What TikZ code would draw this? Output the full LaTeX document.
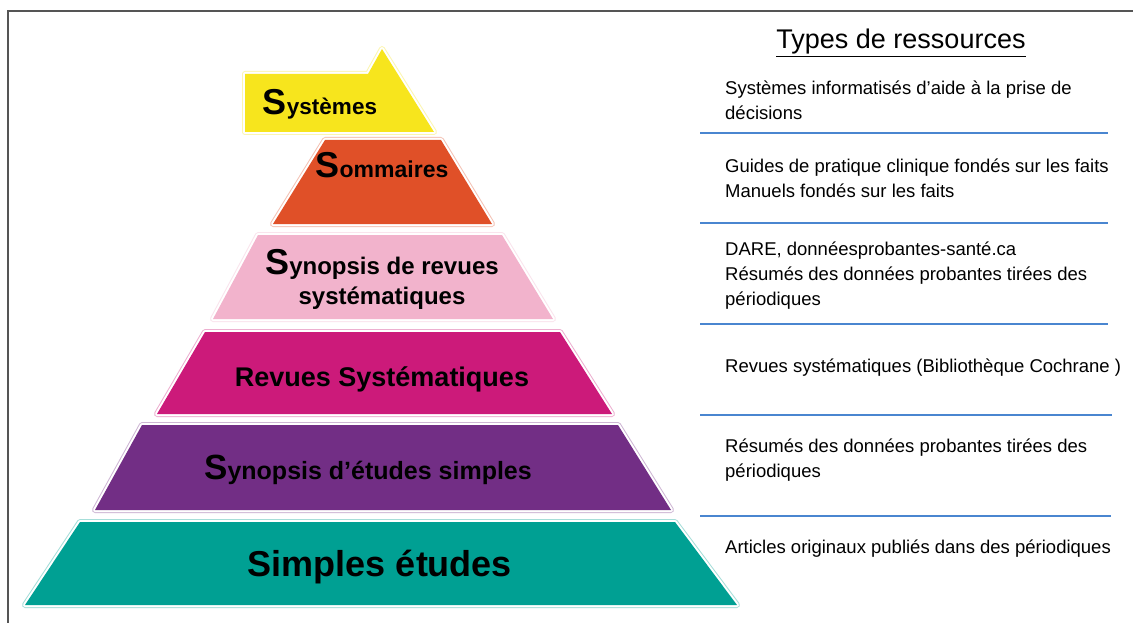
\documentclass[tikz,border=0pt]{standalone}
\usepackage{fontspec}
\setmainfont{Liberation Sans}
\definecolor{cyel}{HTML}{F7E51D}
\definecolor{cora}{HTML}{E05028}
\definecolor{cpink}{HTML}{F2B3CC}
\definecolor{cmag}{HTML}{CC1A7A}
\definecolor{cpur}{HTML}{722E85}
\definecolor{cteal}{HTML}{00A093}
\definecolor{cblue}{HTML}{4A86D0}
\definecolor{ctxt}{HTML}{231F20}
\definecolor{cframe}{HTML}{555555}
\newcommand{\tierdraw}[2]{%
  \draw[#1!35, line width=6, line join=round] #2;
  \draw[white, line width=4, line join=round] #2;
  \fill[#1] #2;}
\newcommand{\bigS}[1]{{\fontsize{#1}{#1}\selectfont S}}
\begin{document}
\begin{tikzpicture}[x=1pt,y=-1pt,
  tier/.style={font=\bfseries\color{ctxt}, inner sep=0, anchor=base},
  res/.style={font=\fontsize{18.5}{25}\selectfont, inner sep=0, anchor=base west, align=left, text=black},
  sep/.style={draw=cblue, line width=2}]
\useasboundingbox (0,0) rectangle (1133,623);
\fill[white] (0,0) rectangle (1133,623);
% frame
\draw[cframe, line width=2] (8,623) -- (8,11) -- (1133,11);
% pyramid
\tierdraw{cyel}{(245,74) -- (368,74) -- (382,49) -- (434,132) -- (245,132) -- cycle}
\tierdraw{cora}{(325,140) -- (441,140) -- (492,224) -- (273,224) -- cycle}
\tierdraw{cpink}{(258,235) -- (502,235) -- (553,319) -- (213,319) -- cycle}
\tierdraw{cmag}{(205,332) -- (560,332) -- (612,414) -- (157,414) -- cycle}
\tierdraw{cpur}{(142,425) -- (618,425) -- (671,510) -- (95,510) -- cycle}
\tierdraw{cteal}{(80,522) -- (675,522) -- (737,605) -- (25,605) -- cycle}
% pyramid labels (anchor = baseline of last line)
\node[tier, font=\bfseries\fontsize{22.5}{24}\selectfont] (t1) at (320,115) {\bigS{36}ystèmes};
\node[tier, font=\bfseries\fontsize{23}{24}\selectfont] (t2) at (382,178) {\bigS{36}ommaires};
\node[tier, font=\bfseries\fontsize{24}{30}\selectfont, align=center] (t3) at (382,304) {\bigS{36}ynopsis de revues\\systématiques};
\node[tier, font=\bfseries\fontsize{27}{29}\selectfont] (t4) at (382,386) {Revues Systématiques};
\node[tier, font=\bfseries\fontsize{25}{29}\selectfont] (t5) at (368,479) {\bigS{35}ynopsis d’études simples};
\node[tier, font=\bfseries\fontsize{36}{38}\selectfont] (t6) at (380,576) {Simples études};
% right column
\node[inner sep=0, anchor=base, font=\fontsize{27}{28}\selectfont] (head) at (901,49) {\underline{Types de ressources}};
\node[res] (r1) at (725,120) {Systèmes informatisés d'aide à la prise de\\décisions};
\node[res] (r2) at (725,197) {Guides de pratique clinique fondés sur les faits\\Manuels fondés sur les faits};
\node[res] (r3) at (725,305) {DARE, donnéesprobantes-santé.ca\\Résumés des données probantes tirées des\\périodiques};
\node[res] (r4) at (725,372) {Revues systématiques (Bibliothèque Cochrane )};
\node[res] (r5) at (725,477) {Résumés des données probantes tirées des\\périodiques};
\node[res] (r6) at (725,553) {Articles originaux publiés dans des périodiques};
\coordinate (l1a) at (700,133); \coordinate (l1b) at (1108,133);
\coordinate (l2a) at (700,223); \coordinate (l2b) at (1108,223);
\coordinate (l3a) at (700,324); \coordinate (l3b) at (1108,324);
\coordinate (l4a) at (700,415); \coordinate (l4b) at (1112,415);
\coordinate (l5a) at (700,516); \coordinate (l5b) at (1111,516);
\draw[sep] (l1a) -- (l1b);
\draw[sep] (l2a) -- (l2b);
\draw[sep] (l3a) -- (l3b);
\draw[sep] (l4a) -- (l4b);
\draw[sep] (l5a) -- (l5b);
\end{tikzpicture}
\end{document}
